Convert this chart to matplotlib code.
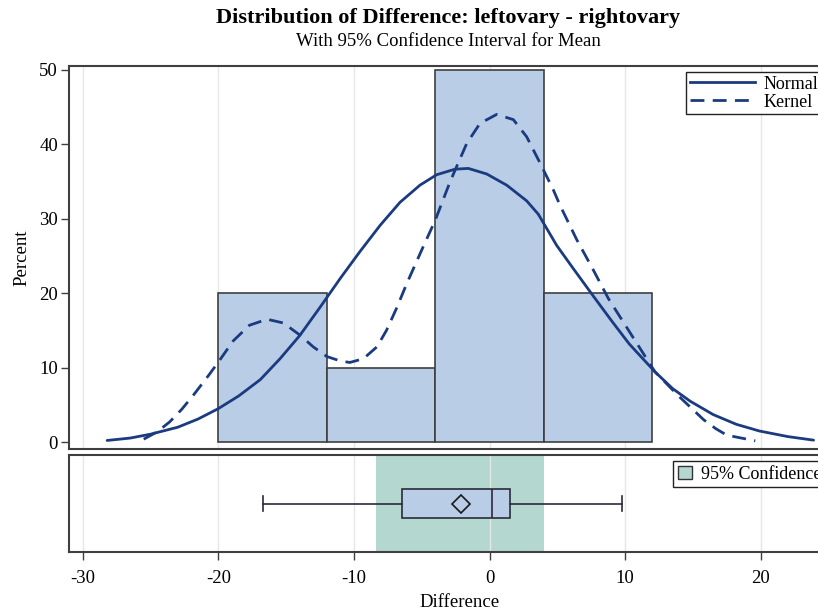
import matplotlib
matplotlib.use("Agg")
import matplotlib.pyplot as plt
from matplotlib.lines import Line2D
from matplotlib.patches import Patch

plt.rcParams['font.family'] = ['Liberation Serif', 'DejaVu Serif']

# ---------------- data ----------------
bin_edges = [-20, -12, -4, 4, 12]
bin_percent = [20, 10, 50, 20]

normal_x = [-28.2, -26.5, -25.0, -23.0, -21.5, -20.0, -18.5, -16.9, -15.45, -14.0, -12.5,
            -11.0, -9.55, -8.07, -6.6, -5.13, -3.9, -2.54, -1.56, -0.2, 1.27, 2.74, 3.6,
            4.96, 6.18, 7.66, 9.0, 10.3, 12.2, 13.5, 14.8, 16.5, 18.2, 19.9, 22.0, 23.9]
normal_y = [0.23, 0.55, 1.07, 2.0, 3.1, 4.5, 6.2, 8.4, 11.2, 14.3, 18.1,
            22.0, 25.6, 29.1, 32.2, 34.5, 35.9, 36.65, 36.75, 36.0, 34.5, 32.4, 30.6,
            26.4, 23.3, 19.6, 16.3, 13.2, 9.45, 7.2, 5.5, 3.7, 2.4, 1.5, 0.75, 0.27]

kernel_x = [-25.5, -24.5, -23.6, -22.7, -21.8, -20.7, -19.9, -18.9, -17.7, -16.4, -15.2,
            -14.0, -13.0, -12.0, -11.0, -10.3, -9.3, -8.3, -7.6, -6.85, -6.1, -4.9, -4.0,
            -2.9, -1.68, -0.7, 0.53, 1.76, 2.74, 3.72, 4.7, 5.2, 6.43, 7.66, 8.76, 10.4,
            12.2, 14.0, 15.8, 16.7, 17.5, 19.6]
kernel_y = [0.4, 1.4, 2.7, 4.4, 6.4, 9.0, 11.0, 13.6, 15.7, 16.5, 16.0,
            14.4, 12.8, 11.5, 10.9, 10.7, 11.2, 12.8, 15.0, 18.0, 21.3, 26.2, 29.8,
            35.0, 40.1, 42.8, 44.0, 43.3, 41.0, 37.5, 33.9, 31.8, 27.2, 23.1, 19.3, 14.6,
            9.45, 6.1, 3.0, 1.8, 0.94, 0.18]

# box plot statistics
box_whislo = -16.7
box_q1 = -6.43
box_med = 0.2
box_q3 = 1.51
box_whishi = 9.75
box_mean = -2.12
ci_low, ci_high = -8.39, 4.04

xticks = [-30, -20, -10, 0, 10, 20]
yticks = [0, 10, 20, 30, 40, 50]

# ---------------- styles ----------------
W, H = 818, 613
bar_fc = '#B9CDE7'
edge_c = '#3F3F3F'
curve_c = '#1B3B80'
ci_c = '#B4D7CF'
grid_c = '#E6E6E6'

fig = plt.figure(figsize=(W / 100, H / 100), dpi=100)

def fx(px):
    return px / W

def fy(py):
    return 1 - py / H

# pixel mapping of data x: 0 -> 489.5 px, 13.56 px per unit
left, right = 69, 850
x0_px, x_scale = 489.5, 13.56
xlim = ((left - x0_px) / x_scale, (right - x0_px) / x_scale)

ax = fig.add_axes([fx(left), fy(448.5), fx(right - left), fy(66) - fy(448.5)])
ax2 = fig.add_axes([fx(left), fy(552), fx(right - left), fy(455) - fy(552)])

# ---------- top panel ----------
for v in xticks:
    ax.axvline(v, color=grid_c, lw=1, zorder=0)
widths = [bin_edges[i + 1] - bin_edges[i] for i in range(len(bin_percent))]
ax.bar(bin_edges[:-1], bin_percent, width=widths, align='edge', color=bar_fc,
       edgecolor=edge_c, linewidth=1.2, zorder=2)
ax.plot(normal_x, normal_y, color=curve_c, lw=2.0, zorder=3,
        solid_joinstyle='round', solid_capstyle='round')
ax.plot(kernel_x, kernel_y, color=curve_c, lw=2.0, ls=(0, (5, 3)), zorder=3,
        dash_joinstyle='round')
ax.set_xlim(*xlim)
ax.set_ylim(-0.85, 50.5)
ax.set_yticks(yticks)
ax.set_yticklabels([str(t) for t in yticks], fontsize=13.5)
ax.set_xticks([])
ax.set_ylabel('Percent', fontsize=13.5, labelpad=6)
ax.tick_params(axis='y', direction='out', length=6, width=1, color=edge_c, pad=2)
for s in ax.spines.values():
    s.set_color(edge_c)
    s.set_linewidth(1.5)

# ---------- bottom panel ----------
for v in xticks:
    ax2.axvline(v, color=grid_c, lw=1, zorder=1)
ax2.axvspan(ci_low, ci_high, color=ci_c, zorder=0.5, lw=0)
stats = [dict(med=box_med, q1=box_q1, q3=box_q3, whislo=box_whislo, whishi=box_whishi,
              mean=box_mean, fliers=[])]
ax2.bxp(stats, positions=[0.5], widths=0.3, vert=False, showmeans=True,
        patch_artist=True, capwidths=0.16,
        boxprops=dict(facecolor=bar_fc, edgecolor='#2B2B3A', linewidth=1.2),
        medianprops=dict(color='#2B2B3A', linewidth=1.2),
        whiskerprops=dict(color='#2B2B3A', linewidth=1.2),
        capprops=dict(color='#2B2B3A', linewidth=1.2),
        meanprops=dict(marker='D', markerfacecolor='none', markeredgecolor='#1A1A1A',
                       markersize=9, markeredgewidth=1.2),
        zorder=3)
ax2.set_xlim(*xlim)
ax2.set_ylim(0, 1)
ax2.set_yticks([])
ax2.set_xticks(xticks)
ax2.set_xticklabels([str(t) for t in xticks], fontsize=13.5)
ax2.tick_params(axis='x', direction='out', length=6, width=1, color=edge_c, pad=7)
ax2.set_xlabel('Difference', fontsize=13.5, labelpad=5)
for s in ax2.spines.values():
    s.set_color(edge_c)
    s.set_linewidth(1.5)

# ---------- legends ----------
h1 = [Line2D([], [], color=curve_c, lw=2), Line2D([], [], color=curve_c, lw=2, ls=(0, (5, 3)))]
leg1 = fig.legend(h1, ['Normal', 'Kernel'], loc='upper left',
                  bbox_to_anchor=(fx(686), fy(72)), fontsize=13, frameon=True,
                  fancybox=False, edgecolor='#222222', framealpha=1,
                  handlelength=3.6, handletextpad=0.5, borderpad=0.2, labelspacing=0.05,
                  borderaxespad=0)
leg1.get_frame().set_linewidth(1.0)
h2 = [Patch(facecolor=ci_c, edgecolor='#333333', lw=1)]
leg2 = fig.legend(h2, ['95% Confidence'], loc='upper left',
                  bbox_to_anchor=(fx(673), fy(461)), fontsize=13, frameon=True,
                  fancybox=False, edgecolor='#222222', framealpha=1,
                  handlelength=0.8, handleheight=0.8, handletextpad=0.5, borderpad=0.25,
                  borderaxespad=0)
leg2.get_frame().set_linewidth(1.0)

# ---------- titles ----------
fig.text(fx(448), fy(18), 'Distribution of Difference: leftovary - rightovary',
         ha='center', va='center', fontsize=16, fontweight='bold')
fig.text(fx(448), fy(42), 'With 95% Confidence Interval for Mean',
         ha='center', va='center', fontsize=13.5)

fig.savefig('out.png', dpi=100)
